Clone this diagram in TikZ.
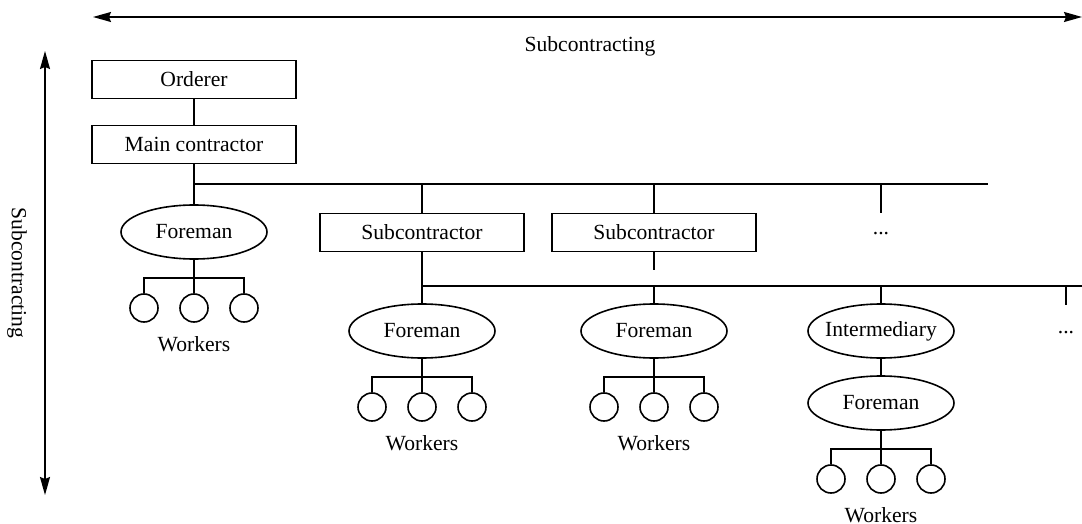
\documentclass[tikz,border=0pt]{standalone}
\usepackage{fontspec}
\setmainfont{Liberation Serif}
\usetikzlibrary{shapes.geometric,arrows.meta}
\begin{document}
\begin{tikzpicture}[x=0.5pt,y=-0.5pt,
  every node/.style={font=\fontsize{10.8}{12}\selectfont},
  ln/.style={line width=0.8pt},
  box/.style={draw,line width=0.8pt,rectangle,minimum width=102pt,minimum height=19pt,inner sep=0pt},
  oval/.style={draw,line width=0.8pt,ellipse,minimum width=73pt,minimum height=27pt,inner sep=0pt},
  wk/.style={draw,line width=0.8pt,circle,minimum size=14pt,inner sep=0pt},
  tip/.style={line width=0.8pt,{Stealth[length=9pt,width=5pt,inset=1pt]}-{Stealth[length=9pt,width=5pt,inset=1pt]}}
]
\useasboundingbox (0,0) rectangle (1082,524);
% axes
\coordinate (hl) at (93,17);
\coordinate (hr) at (1082,17);
\draw[tip] (hl) -- (hr);
\node (htxt) at (590,46) {Subcontracting};
\coordinate (vt) at (45,51);
\coordinate (vb) at (45,495);
\draw[tip] (vt) -- (vb);
\node[rotate=-90] (vtxt) at (17,273) {Subcontracting};

% top
\node[box] (ord) at (194,79.5) {Orderer};
\node[box] (main) at (194,144.5) {Main contractor};
\draw[ln] (ord) -- (main);

% level 1 bus
\coordinate (b1s) at (194,184);
\coordinate (b1e) at (988,184);
\draw[ln] (b1s) -- (b1e);

\node[box] (sub1) at (422,232.5) {Subcontractor};
\node[box] (sub2) at (654,232.5) {Subcontractor};
\coordinate (b1a) at (422,184);
\coordinate (b1b) at (654,184);
\coordinate (b1c) at (881,184);
\coordinate (b1d) at (881,213);
\draw[ln] (b1a) -- (sub1.north);
\draw[ln] (b1b) -- (sub2.north);
\draw[ln] (b1c) -- (b1d);
\node (dots1) at (881,234) {...};

% left foreman
\node[oval] (f1) at (194,232) {Foreman};
\draw[ln] (main.south) -- (f1.north);

% level 2 bus
\coordinate (b2s) at (422,286);
\coordinate (b2e) at (1082,286);
\draw[ln] (b2s) -- (b2e);
\coordinate (s2end) at (654,270);
\draw[ln] (sub2.south) -- (s2end);

\node[oval] (f2) at (422,331) {Foreman};
\node[oval] (f3) at (654,331) {Foreman};
\node[oval] (im) at (881,331) {\makebox[0pt]{Intermediary}};
\node[oval] (f4) at (881,403) {Foreman};
\draw[ln] (sub1.south) -- (f2.north);
\coordinate (b2b) at (654,286);
\coordinate (b2c) at (881,286);
\coordinate (b2d) at (1066,286);
\coordinate (b2dd) at (1066,305);
\draw[ln] (b2b) -- (f3.north);
\draw[ln] (b2c) -- (im.north);
\draw[ln] (b2d) -- (b2dd);
\node (dots2) at (1066,333) {...};
\draw[ln] (im.south) -- (f4.north);

% worker groups
\foreach \f/\cx/\cy in {f1/194/232, f2/422/331, f3/654/331, f4/881/403}{
  \coordinate (\f-j) at (\cx,\cy+46);
  \coordinate (\f-l) at (\cx-50,\cy+46);
  \coordinate (\f-r) at (\cx+50,\cy+46);
  \node[wk] (\f-w1) at (\cx-50,\cy+76) {};
  \node[wk] (\f-w2) at (\cx,\cy+76) {};
  \node[wk] (\f-w3) at (\cx+50,\cy+76) {};
  \draw[ln] (\f.south) -- (\f-w2.north);
  \draw[ln] (\f-w1.north) |- (\f-l) -- (\f-r) -- (\f-w3.north);
  \node (\f-t) at (\cx,\cy+112) {Workers};
}
\end{tikzpicture}
\end{document}
